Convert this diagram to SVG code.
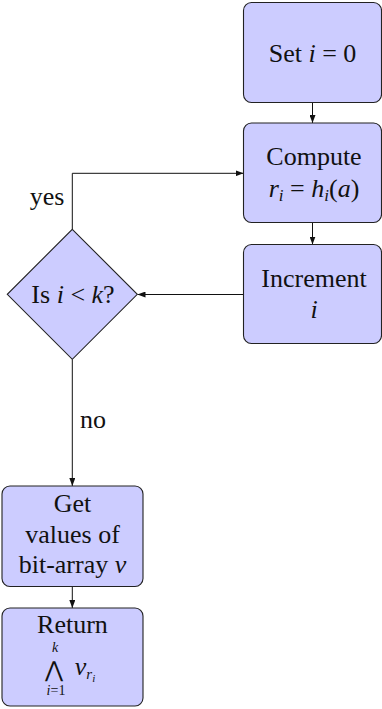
<svg xmlns="http://www.w3.org/2000/svg" width="382" height="709" viewBox="0 0 382 709">
<style>
.box{fill:#ccccff;stroke:#222;stroke-width:1.1}
.t{font-family:"Liberation Serif","Times New Roman",serif;font-size:26px;fill:#111;text-anchor:middle}
.m{font-style:italic}
.sub{font-size:17px;font-style:italic}
.c{fill:none;stroke:#111;stroke-width:1}
</style>
<defs>
<marker id="ah" viewBox="0 0 8 6" refX="8" refY="3" markerWidth="8" markerHeight="6" markerUnits="userSpaceOnUse" orient="auto">
<path d="M0,0 L8,3 L0,6 Z" fill="#111"/>
</marker>
</defs>
<g id="connectors">
<path class="c" d="M312.5,102.5 V123" marker-end="url(#ah)"/>
<path class="c" d="M312.5,222.5 V244.5" marker-end="url(#ah)"/>
<path class="c" d="M243.5,294.5 H137.5" marker-end="url(#ah)"/>
<path class="c" d="M72.3,229.3 V173.3 H243.5" marker-end="url(#ah)"/>
<path class="c" d="M72.3,359.3 V486" marker-end="url(#ah)"/>
<path class="c" d="M72.3,586.5 V608" marker-end="url(#ah)"/>
<text class="t" x="47" y="205">yes</text>
<text class="t" x="93" y="428">no</text>
</g>
<g id="set">
<rect class="box" x="243.5" y="2.5" width="138" height="100" rx="8"/>
<text class="t" x="312.5" y="62">Set <tspan class="m">i</tspan> = 0</text>
</g>
<g id="compute">
<rect class="box" x="243.5" y="123" width="138" height="99.5" rx="8"/>
<text class="t" x="314" y="165">Compute</text>
<text class="t" x="314" y="197"><tspan class="m">r</tspan><tspan class="sub" dy="4">i</tspan><tspan dy="-4"> = </tspan><tspan class="m">h</tspan><tspan class="sub" dy="4">i</tspan><tspan dy="-4">(</tspan><tspan class="m">a</tspan>)</text>
</g>
<g id="increment">
<rect class="box" x="243.5" y="244.5" width="138" height="99" rx="8"/>
<text class="t" x="314" y="287">Increment</text>
<text class="t m" x="314" y="318">i</text>
</g>
<g id="decision">
<polygon class="box" points="72.3,229.3 137.3,294.3 72.3,359.3 7.3,294.3"/>
<text class="t" x="73" y="303">Is <tspan class="m">i</tspan> &lt; <tspan class="m">k</tspan>?</text>
</g>
<g id="get">
<rect class="box" x="2" y="486" width="141" height="100.5" rx="8"/>
<text class="t" x="72.5" y="512">Get</text>
<text class="t" x="72.5" y="543">values of</text>
<text class="t" x="72.5" y="573">bit-array <tspan class="m">v</tspan></text>
</g>
<g id="return">
<rect class="box" x="2" y="608" width="141" height="98" rx="8"/>
<text class="t" x="72.5" y="633">Return</text>
<text class="t m" x="55" y="652" style="font-size:14px">k</text>
<text class="t" x="54" y="677" style="font-family:'DejaVu Sans',sans-serif;font-size:22px">⋀</text>
<text class="t" x="56" y="695" style="font-size:14px"><tspan class="m">i</tspan>=1</text>
<text class="t" x="85" y="675"><tspan class="m">v</tspan><tspan class="sub" dy="4" style="font-size:15px">r</tspan><tspan class="sub" dy="3" style="font-size:11px">i</tspan></text>
</g>
</svg>
